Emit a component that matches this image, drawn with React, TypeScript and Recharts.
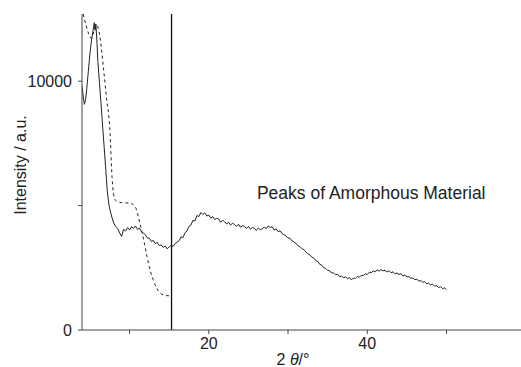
import {
  Label,
  Line,
  LineChart,
  ReferenceDot,
  ReferenceLine,
  XAxis,
  YAxis,
} from "recharts";

// measured pattern, [2θ in degrees, intensity]
const scanLowAngle: [number, number][] = [
  [4.0, 9800], [4.15, 9400], [4.3, 9070], [4.45, 9250], [4.6, 9700], [4.8, 10400],
  [5.0, 11100], [5.2, 11650], [5.4, 12050], [5.55, 12350], [5.65, 12050], [5.75, 12300],
  [5.9, 11500], [6.0, 10800], [6.2, 9950], [6.4, 9100], [6.6, 8200], [6.8, 7330],
  [7.0, 6450], [7.2, 5550], [7.4, 5020], [7.6, 4740], [7.8, 4500], [8.0, 4300],
  [8.25, 4160], [8.5, 4080], [8.75, 3900], [9.0, 3760], [9.25, 4050], [9.5, 3980],
  [9.75, 4120], [10.0, 4020], [10.25, 4150], [10.5, 4080], [10.75, 4180], [11.0, 4040],
  [11.25, 4100], [11.5, 3950], [11.75, 3900], [12.0, 3820], [12.25, 3700], [12.5, 3690],
  [12.75, 3560], [13.0, 3600], [13.25, 3470], [13.5, 3520], [13.75, 3390], [14.0, 3420],
  [14.25, 3320], [14.5, 3380], [14.75, 3260], [15.0, 3340],
];

const scanHump: [number, number][] = [
  [15.25, 3400], [15.5, 3360], [15.75, 3470], [16.0, 3530], [16.25, 3590], [16.5, 3740],
  [16.75, 3720], [17.0, 3910], [17.25, 3980], [17.5, 4170], [17.75, 4220], [18.0, 4410],
  [18.25, 4380], [18.5, 4600], [18.75, 4560], [19.0, 4720], [19.25, 4640], [19.5, 4710],
  [19.75, 4580], [20.0, 4620], [20.25, 4500], [20.5, 4560], [20.75, 4440], [21.0, 4490],
  [21.25, 4460], [21.5, 4330], [21.75, 4410], [22.0, 4350], [22.25, 4260], [22.5, 4330],
  [22.75, 4220], [23.0, 4290], [23.25, 4240], [23.5, 4160], [23.75, 4250], [24.0, 4130],
  [24.25, 4190], [24.5, 4170], [24.75, 4080], [25.0, 4160], [25.25, 4050], [25.5, 4120],
  [25.75, 4090], [26.0, 4000], [26.25, 4100], [26.5, 4030], [26.75, 4060], [27.0, 4140],
  [27.25, 4070], [27.5, 4180], [27.75, 4120], [28.0, 4150], [28.25, 4020], [28.5, 4060],
  [28.75, 3950], [29.0, 3990], [29.25, 3870], [29.5, 3830], [29.75, 3780], [30.0, 3700],
  [30.25, 3690], [30.5, 3580], [30.75, 3540], [31.0, 3470], [31.25, 3400], [31.5, 3350],
  [31.75, 3270], [32.0, 3230], [32.25, 3140], [32.5, 3060], [32.75, 3020], [33.0, 2930],
];

const scanTail: [number, number][] = [
  [33.25, 2890], [33.5, 2790], [33.75, 2760], [34.0, 2640], [34.25, 2610], [34.5, 2500],
  [34.75, 2470], [35.0, 2400], [35.25, 2380], [35.5, 2290], [35.75, 2300], [36.0, 2220],
  [36.25, 2240], [36.5, 2140], [36.75, 2170], [37.0, 2090], [37.25, 2130], [37.5, 2060],
  [37.75, 2110], [38.0, 2010], [38.25, 2090], [38.5, 2070], [38.75, 2150], [39.0, 2120],
  [39.25, 2200], [39.5, 2180], [39.75, 2260], [40.0, 2230], [40.25, 2320], [40.5, 2300],
  [40.75, 2380], [41.0, 2340], [41.25, 2410], [41.5, 2370], [41.75, 2430], [42.0, 2380],
  [42.25, 2400], [42.5, 2330], [42.75, 2380], [43.0, 2300], [43.25, 2340], [43.5, 2260],
  [43.75, 2290], [44.0, 2230], [44.25, 2260], [44.5, 2170], [44.75, 2210], [45.0, 2130],
  [45.25, 2150], [45.5, 2080], [45.75, 2090], [46.0, 2020], [46.25, 2050], [46.5, 1960],
  [46.75, 1990], [47.0, 1920], [47.25, 1940], [47.5, 1860], [47.75, 1880], [48.0, 1810],
  [48.25, 1840], [48.5, 1760], [48.75, 1780], [49.0, 1710], [49.25, 1740], [49.5, 1660],
  [49.75, 1690], [50.0, 1620],
];

// dashed reference pattern
const referencePattern: [number, number][] = [
  [4.15, 12700], [4.5, 12250], [4.85, 11900], [5.2, 11720], [5.5, 12000], [5.85, 12260],
  [6.25, 11800], [6.7, 10550], [7.1, 9300], [7.5, 8150], [7.8, 6100], [8.15, 5250],
  [8.5, 5150], [9.0, 5120], [9.5, 5110], [10.05, 5100], [10.7, 4960], [11.3, 4300],
  [11.8, 3600], [12.2, 2950], [12.6, 2400], [13.0, 2010], [13.4, 1700], [13.85, 1490],
  [14.4, 1400], [15.1, 1370],
];

const xTicks = [10, 20, 30, 40, 50];
const xTickLabels = [20, 40];
const yTicks = [0, 5000, 10000];
const yTickLabels = [0, 10000];
const markerAngle = 15.3;
const annotation = { angle: 40.5, intensity: 5500, text: "Peaks of Amorphous Material" };

const toRows = (pts: [number, number][]) => pts.map(([angle, intensity]) => ({ angle, intensity }));
const scanData = toRows([...scanLowAngle, ...scanHump, ...scanTail]);
const refData = toRows(referencePattern);

const FONT = "'Liberation Sans', Arial, sans-serif";
const INK = "#222";

function XTitle(props: any) {
  const vb = props.viewBox || { x: 82, y: 330 };
  return (
    <text x={vb.x + 211} y={365} textAnchor="middle" fontFamily={FONT} fontSize={16} fill={INK}>
      2 <tspan fontStyle="italic">θ</tspan>/°
    </text>
  );
}

function YTitle() {
  return (
    <text
      x={20}
      y={165}
      transform="rotate(-90, 20, 165)"
      textAnchor="middle"
      dominantBaseline="central"
      fontFamily={FONT}
      fontSize={16}
      fill={INK}
    >
      Intensity / a.u.
    </text>
  );
}

export default function App() {
  return (
    <div style={{ position: "absolute", left: 0, top: 0, background: "#fff" }}>
      <LineChart width={521} height={367} margin={{ top: 14, right: 0, bottom: 0, left: 0 }}>
        <XAxis
          type="number"
          dataKey="angle"
          domain={[4, 59.4]}
          allowDataOverflow
          ticks={xTicks}
          tickFormatter={(v: number) => (xTickLabels.includes(v) ? String(v) : "")}
          tickSize={4}
          tickMargin={4}
          height={37}
          stroke="#444"
          tick={{ fontSize: 16, fontFamily: FONT, fill: INK }}
        >
          <Label content={XTitle} />
        </XAxis>
        <YAxis
          type="number"
          domain={[0, 12700]}
          allowDataOverflow
          ticks={yTicks}
          tickFormatter={(v: number) => (yTickLabels.includes(v) ? String(v) : "")}
          tickSize={4}
          tickMargin={6}
          width={82}
          stroke="#444"
          tick={{ fontSize: 16, fontFamily: FONT, fill: INK }}
        >
          <Label content={YTitle} />
        </YAxis>
        <ReferenceLine x={markerAngle} stroke="#111" strokeWidth={1.3} />
        <Line
          data={refData}
          dataKey="intensity"
          type="monotone"
          stroke={INK}
          strokeWidth={1}
          strokeDasharray="3 3"
          dot={false}
          isAnimationActive={false}
        />
        <Line
          data={scanData}
          dataKey="intensity"
          type="linear"
          stroke={INK}
          strokeWidth={1}
          dot={false}
          isAnimationActive={false}
        />
        <ReferenceDot
          x={annotation.angle}
          y={annotation.intensity}
          r={0}
          fill="none"
          stroke="none"
          label={{
            value: annotation.text,
            position: "center",
            fontSize: 17.5,
            fontFamily: FONT,
            fill: INK,
          }}
        />
      </LineChart>
    </div>
  );
}
